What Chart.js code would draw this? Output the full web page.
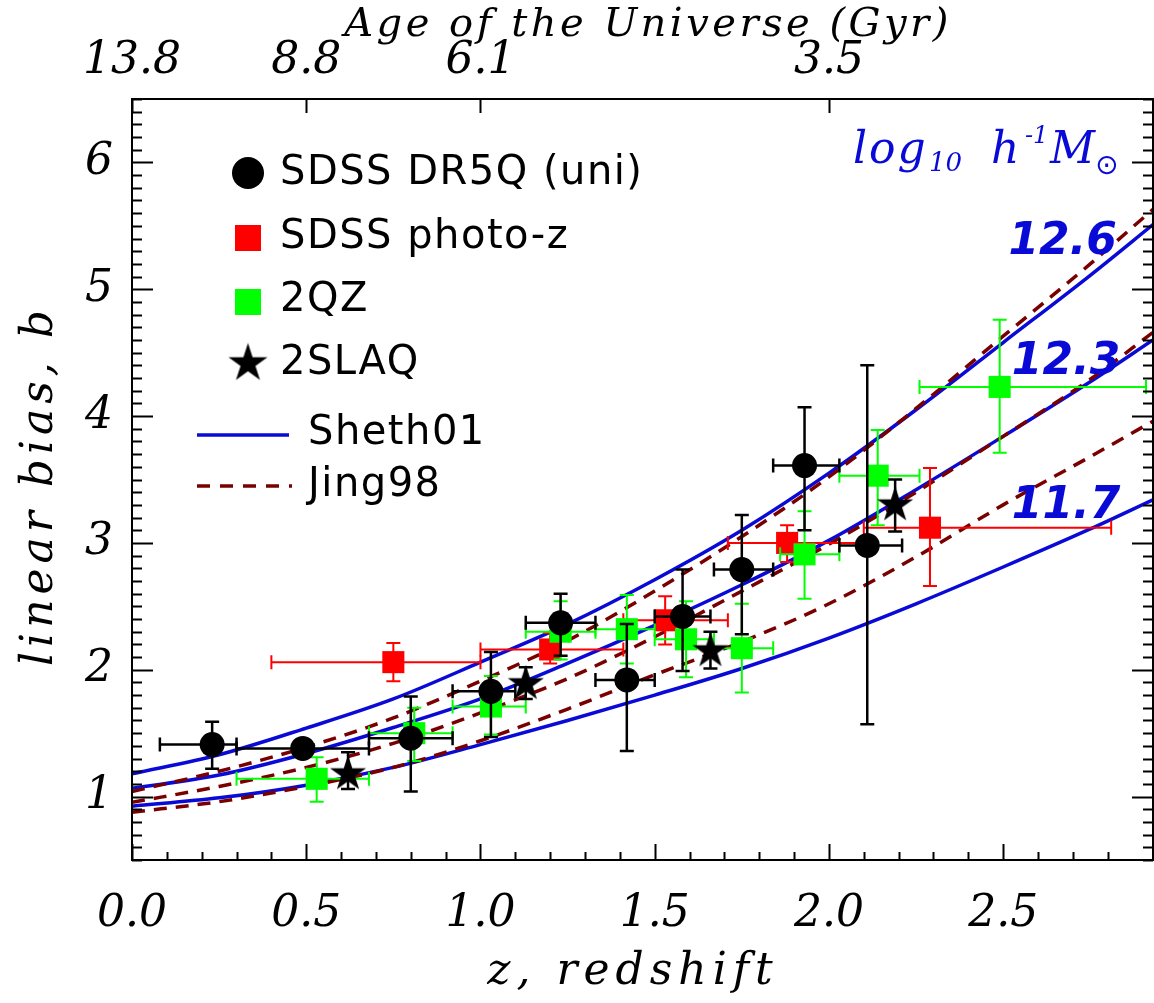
<!DOCTYPE html>
<html>
<head>
<meta charset="utf-8">
<script src="https://cdn.jsdelivr.net/npm/chart.js@4.4.1/dist/chart.umd.min.js"></script>
<style>
  html, body { margin: 0; padding: 0; background: #fff; overflow: hidden; }
  #wrap { width: 1154px; height: 1003px; }
  canvas { display: block; }
</style>
</head>
<body>
<div id="wrap"><canvas id="biasChart" width="1154" height="1003"></canvas></div>
<script>
// SDSS DR5Q (uni) - black circles
var dr5qZ   = [0.23, 0.49, 0.80, 1.03, 1.23, 1.42, 1.58, 1.75, 1.93, 2.11];
var dr5qZlo = [0.08, 0.30, 0.68, 0.92, 1.13, 1.33, 1.50, 1.67, 1.84, 2.03];
var dr5qZhi = [0.30, 0.68, 0.92, 1.10, 1.33, 1.50, 1.66, 1.84, 2.03, 2.21];
var dr5qB   = [1.41, 1.38, 1.46, 1.83, 2.37, 1.92, 2.42, 2.79, 3.61, 2.98];
var dr5qBlo = [1.22, 1.32, 1.04, 1.47, 2.11, 1.36, 1.99, 2.28, 3.10, 1.57];
var dr5qBhi = [1.59, 1.44, 1.79, 2.14, 2.60, 2.36, 2.79, 3.22, 4.07, 4.40];

// SDSS photo-z - red squares
var photZ   = [0.75, 1.20, 1.53, 1.88, 2.29];
var photZlo = [0.40, 1.00, 1.41, 1.71, 2.10];
var photZhi = [1.00, 1.41, 1.71, 2.10, 2.81];
var photB   = [2.06, 2.16, 2.39, 3.00, 3.12];
var photBlo = [1.91, 2.05, 2.20, 2.85, 2.66];
var photBhi = [2.21, 2.29, 2.58, 3.14, 3.59];

// 2QZ - green squares
var qzZ   = [0.53, 0.81, 1.03, 1.23, 1.42, 1.59, 1.75, 1.93, 2.14, 2.49];
var qzZlo = [0.30, 0.68, 0.92, 1.13, 1.33, 1.50, 1.67, 1.86, 2.03, 2.26];
var qzZhi = [0.68, 0.92, 1.13, 1.33, 1.50, 1.67, 1.84, 2.03, 2.26, 2.91];
var qzB   = [1.14, 1.50, 1.71, 2.30, 2.32, 2.24, 2.17, 2.91, 3.53, 4.23];
var qzBlo = [0.96, 1.28, 1.49, 2.08, 2.05, 1.94, 1.82, 2.56, 3.14, 3.71];
var qzBhi = [1.31, 1.70, 1.95, 2.54, 2.59, 2.54, 2.52, 3.25, 3.89, 4.76];

// 2SLAQ - stars
var slaqZ   = [0.62, 1.13, 1.66, 2.19];
var slaqB   = [1.19, 1.90, 2.16, 3.31];
var slaqBlo = [1.06, 1.77, 2.01, 3.09];
var slaqBhi = [1.35, 2.02, 2.30, 3.50];

// halo bias models, log10 M = 12.6, 12.3, 11.7
var modelZ   = [0, 0.25, 0.5, 0.75, 1.0, 1.25, 1.5, 1.75, 2.0, 2.25, 2.5, 2.75, 2.93];
var sheth126 = [1.18, 1.33, 1.54, 1.77, 2.06, 2.36, 2.71, 3.10, 3.55, 4.05, 4.58, 5.11, 5.51];
var jing126  = [1.04, 1.20, 1.39, 1.62, 1.91, 2.23, 2.62, 3.05, 3.52, 4.06, 4.63, 5.20, 5.63];
var sheth123 = [1.065, 1.17, 1.34, 1.545, 1.77, 2.05, 2.35, 2.67, 3.02, 3.42, 3.84, 4.27, 4.60];
var jing123  = [0.955, 1.08, 1.23, 1.42, 1.66, 1.93, 2.26, 2.62, 2.99, 3.40, 3.84, 4.29, 4.66];
var sheth117 = [0.924, 0.99, 1.09, 1.23, 1.41, 1.60, 1.80, 2.01, 2.25, 2.52, 2.81, 3.11, 3.34];
var jing117  = [0.877, 0.96, 1.08, 1.23, 1.44, 1.69, 1.96, 2.22, 2.52, 2.89, 3.30, 3.68, 3.96];
var massLabels = ['12.6', '12.3', '11.7'];

// top axis: age of the universe
var ageTickZ = [0, 0.5, 1.0, 2.0];
var ageTickLabels = ['13.8', '8.8', '6.1', '3.5'];

var legendNames = ['SDSS DR5Q (uni)', 'SDSS photo-z', '2QZ', '2SLAQ', 'Sheth01', 'Jing98'];

var BLUE = '#0a0ad6';
var DARKRED = '#7a0000';
var serif = "'DejaVu Serif', serif";
var sans = "'DejaVu Sans', sans-serif";

function makeStar(outer) {
    var inner = outer * 0.382;
    var c = document.createElement('canvas');
    var s = Math.ceil(outer * 2 + 2);
    c.width = s; c.height = s;
    var g = c.getContext('2d');
    g.fillStyle = '#000';
    g.beginPath();
    for (var i = 0; i < 10; i++) {
        var r = i % 2 === 0 ? outer : inner;
        var a = -Math.PI / 2 + i * Math.PI / 5;
        var px = s / 2 + r * Math.cos(a), py = s / 2 + 1.5 + r * Math.sin(a);
        if (i === 0) g.moveTo(px, py); else g.lineTo(px, py);
    }
    g.closePath();
    g.fill();
    return c;
}
var starSmall = makeStar(19);
var starBig = makeStar(20.5);

function points(xs, ys, xlo, xhi, ylo, yhi) {
    return xs.map(function (x, i) {
        return {
            x: x, y: ys[i],
            xMin: xlo ? xlo[i] : null, xMax: xhi ? xhi[i] : null,
            yMin: ylo[i], yMax: yhi[i]
        };
    });
}
function curve(ys) {
    return modelZ.map(function (z, i) { return { x: z, y: ys[i] }; });
}

function blueLine(ys) {
    return { type: 'line', data: curve(ys), borderColor: BLUE, borderWidth: 3.5, pointRadius: 0,
             cubicInterpolationMode: 'monotone', fill: false, order: 21 };
}
function dashLine(ys) {
    return { type: 'line', data: curve(ys), borderColor: DARKRED, borderWidth: 3.5, borderDash: [13, 9],
             pointRadius: 0, cubicInterpolationMode: 'monotone', fill: false, order: 20 };
}

var errorBarPlugin = {
    id: 'errorBars',
    beforeDatasetDraw: function (chart, args) {
        var ds = chart.data.datasets[args.index];
        if (!ds.errorColor) return;
        var xs = chart.scales.x, ys = chart.scales.y, ctx = chart.ctx, cap = 7;
        ctx.save();
        ctx.strokeStyle = ds.errorColor;
        ctx.lineWidth = ds.errorWidth;
        ds.data.forEach(function (p) {
            var px = xs.getPixelForValue(p.x), py = ys.getPixelForValue(p.y);
            ctx.beginPath();
            if (p.xMin != null) {
                var x0 = xs.getPixelForValue(p.xMin), x1 = xs.getPixelForValue(p.xMax);
                ctx.moveTo(x0, py); ctx.lineTo(x1, py);
                ctx.moveTo(x0, py - cap); ctx.lineTo(x0, py + cap);
                ctx.moveTo(x1, py - cap); ctx.lineTo(x1, py + cap);
            }
            var y0 = ys.getPixelForValue(p.yMin), y1 = ys.getPixelForValue(p.yMax);
            ctx.moveTo(px, y0); ctx.lineTo(px, y1);
            ctx.moveTo(px - cap, y0); ctx.lineTo(px + cap, y0);
            ctx.moveTo(px - cap, y1); ctx.lineTo(px + cap, y1);
            ctx.stroke();
        });
        ctx.restore();
    }
};

// frame and inward IDL-style ticks
var framePlugin = {
    id: 'frame',
    afterDatasetsDraw: function (chart) {
        var ctx = chart.ctx, a = chart.chartArea;
        var xs = chart.scales.x, ys = chart.scales.y, xt = chart.scales.x2;
        ctx.save();
        ctx.strokeStyle = '#000';
        ctx.lineWidth = 2;
        ctx.strokeRect(a.left, a.top, a.right - a.left, a.bottom - a.top);
        ctx.beginPath();
        ys.ticks.forEach(function (t) {
            var py = Math.round(ys.getPixelForValue(t.value)) + 0.5;
            var major = Math.abs(t.value - Math.round(t.value)) < 1e-6;
            var len = major ? 21 : 10;
            ctx.moveTo(a.left, py); ctx.lineTo(a.left + len, py);
            ctx.moveTo(a.right, py); ctx.lineTo(a.right - len, py);
        });
        xs.ticks.forEach(function (t) {
            if (t.value > 2.91) return;
            var px = Math.round(xs.getPixelForValue(t.value)) + 0.5;
            var major = Math.abs(t.value * 2 - Math.round(t.value * 2)) < 1e-6;
            var len = major ? 16 : 8;
            ctx.moveTo(px, a.bottom); ctx.lineTo(px, a.bottom - len);
        });
        xt.ticks.forEach(function (t) {
            var px = Math.round(xt.getPixelForValue(t.value)) + 0.5;
            ctx.moveTo(px, a.top); ctx.lineTo(px, a.top + 14);
        });
        ctx.stroke();
        ctx.restore();
    }
};

// axis titles, drawn with the wide letter spacing of the original
var titlePlugin = {
    id: 'axisTitles',
    afterDraw: function (chart) {
        var ctx = chart.ctx, a = chart.chartArea;
        ctx.save();
        ctx.fillStyle = '#000';
        ctx.textBaseline = 'alphabetic';
        ctx.textAlign = 'center';
        ctx.font = 'italic 40px ' + serif;
        ctx.letterSpacing = '3.5px';
        ctx.fillText('Age of the Universe (Gyr)', 648, 36);
        ctx.font = 'italic 44px ' + serif;
        ctx.letterSpacing = '6px';
        ctx.fillText('z, redshift', 633, 984);
        ctx.letterSpacing = '5px';
        ctx.translate(52, (a.top + a.bottom) / 2 + 6);
        ctx.rotate(-Math.PI / 2);
        ctx.fillText('linear bias, b', 0, 0);
        ctx.restore();
    }
};

var legendPlugin = {
    id: 'innerLegend',
    afterDraw: function (chart) {
        var ctx = chart.ctx, xs = chart.scales.x, ys = chart.scales.y;
        ctx.save();
        // markers
        ctx.fillStyle = '#000';
        ctx.beginPath(); ctx.arc(248, 173, 16, 0, Math.PI * 2); ctx.fill();
        ctx.fillStyle = '#ff0000'; ctx.fillRect(235, 225, 26, 26);
        ctx.fillStyle = '#00ff00'; ctx.fillRect(235, 289, 26, 26);
        ctx.drawImage(starBig, 248 - starBig.width / 2, 362 - starBig.height / 2);
        ctx.strokeStyle = BLUE; ctx.lineWidth = 3.5;
        ctx.beginPath(); ctx.moveTo(197, 435); ctx.lineTo(289, 435); ctx.stroke();
        ctx.strokeStyle = DARKRED; ctx.lineWidth = 3.5; ctx.setLineDash([13, 10]);
        ctx.beginPath(); ctx.moveTo(197, 486); ctx.lineTo(292, 486); ctx.stroke();
        ctx.setLineDash([]);
        // names
        ctx.fillStyle = '#000';
        ctx.font = '40px ' + sans;
        ctx.letterSpacing = '1.5px';
        ctx.textBaseline = 'middle';
        ctx.textAlign = 'left';
        var rowsY = [174, 238, 301, 364, 434, 486];
        var rowsX = [280, 280, 280, 280, 308, 308];
        legendNames.forEach(function (n, i) { ctx.fillText(n, rowsX[i], rowsY[i]); });
        ctx.letterSpacing = '0px';

        // mass labels next to the curves
        var labelZ = [2.515, 2.525, 2.525], labelB = [5.28, 4.33, 3.20];
        ctx.fillStyle = BLUE;
        ctx.font = 'italic bold 44px ' + sans;
        ctx.textBaseline = 'alphabetic';
        massLabels.forEach(function (m, i) {
            ctx.fillText(m, xs.getPixelForValue(labelZ[i]), ys.getPixelForValue(labelB[i]));
        });

        // log10 h^-1 M_sun
        ctx.font = 'italic 44px ' + serif;
        ctx.letterSpacing = '2px';
        ctx.fillText('log', 853, 163);
        ctx.letterSpacing = '0px';
        ctx.font = 'italic 26px ' + serif;
        ctx.fillText('10', 929, 171);
        ctx.font = 'italic 44px ' + serif;
        ctx.fillText('h', 991, 163);
        ctx.font = 'italic 24px ' + serif;
        ctx.fillText('-1', 1025, 143);
        ctx.font = 'italic 44px ' + serif;
        ctx.fillText('M', 1050, 163);
        ctx.font = '28px ' + sans;
        ctx.fillText('\u2299', 1095, 174);
        ctx.restore();
    }
};

var tickFont = { family: serif, size: 44, style: 'italic' };

// fixed axis boxes so the plot frame lands where the original has it
function fixX(h) {
    return function (s) { s.height = h; s.paddingLeft = 0; s.paddingRight = 0; };
}

new Chart(document.getElementById('biasChart').getContext('2d'), {
    type: 'scatter',
    data: {
        datasets: [
            blueLine(sheth126), blueLine(sheth123), blueLine(sheth117),
            dashLine(jing126), dashLine(jing123), dashLine(jing117),
            {
                label: legendNames[1], data: points(photZ, photB, photZlo, photZhi, photBlo, photBhi),
                pointStyle: 'rect', pointRadius: 15.6, backgroundColor: '#ff0000', borderWidth: 0,
                errorColor: '#ff0000', errorWidth: 2, order: 4
            },
            {
                label: legendNames[2], data: points(qzZ, qzB, qzZlo, qzZhi, qzBlo, qzBhi),
                pointStyle: 'rect', pointRadius: 15.6, backgroundColor: '#00ff00', borderWidth: 0,
                errorColor: '#00ff00', errorWidth: 2, order: 3
            },
            {
                label: legendNames[0], data: points(dr5qZ, dr5qB, dr5qZlo, dr5qZhi, dr5qBlo, dr5qBhi),
                pointStyle: 'circle', pointRadius: 12.5, backgroundColor: '#000', borderWidth: 0,
                errorColor: '#000', errorWidth: 2.5, order: 2
            },
            {
                label: legendNames[3], data: points(slaqZ, slaqB, null, null, slaqBlo, slaqBhi),
                pointStyle: starSmall, pointRadius: 19, backgroundColor: '#000', borderWidth: 0,
                errorColor: '#000', errorWidth: 2.5, order: 1
            }
        ]
    },
    options: {
        responsive: false,
        devicePixelRatio: 1,
        animation: false,
        events: [],
        layout: { autoPadding: false, padding: { left: 0, right: 1, top: 0, bottom: 0 } },
        plugins: { legend: { display: false }, tooltip: { enabled: false } },
        scales: {
            x: {
                type: 'linear', position: 'bottom', min: 0, max: 2.93,
                afterFit: fixX(143),
                grid: { drawOnChartArea: false, drawTicks: false },
                border: { display: false },
                ticks: {
                    stepSize: 0.1, autoSkip: false, maxRotation: 0, padding: 28,
                    color: '#000', font: tickFont,
                    callback: function (v) {
                        return Math.abs(v * 2 - Math.round(v * 2)) < 1e-6 ? v.toFixed(1) : '';
                    }
                }
            },
            x2: {
                type: 'linear', position: 'top', min: 0, max: 2.93,
                afterFit: fixX(99),
                afterBuildTicks: function (s) {
                    s.ticks = ageTickZ.map(function (z) { return { value: z }; });
                },
                grid: { drawOnChartArea: false, drawTicks: false },
                border: { display: false },
                ticks: {
                    autoSkip: false, maxRotation: 0, padding: 11, color: '#000', font: tickFont,
                    callback: function (v) { return ageTickLabels[ageTickZ.indexOf(v)]; }
                }
            },
            y: {
                type: 'linear', position: 'left', min: 0.5, max: 6.5,
                afterFit: function (s) { s.width = 132; s.paddingTop = 0; s.paddingBottom = 0; },
                grid: { drawOnChartArea: false, drawTicks: false },
                border: { display: false },
                ticks: {
                    stepSize: 0.1, autoSkip: false, padding: 19, color: '#000', font: tickFont,
                    callback: function (v) {
                        return Math.abs(v - Math.round(v)) < 1e-6 ? String(Math.round(v)) : '';
                    }
                }
            }
        }
    },
    plugins: [errorBarPlugin, framePlugin, titlePlugin, legendPlugin]
});
</script>
</body>
</html>
